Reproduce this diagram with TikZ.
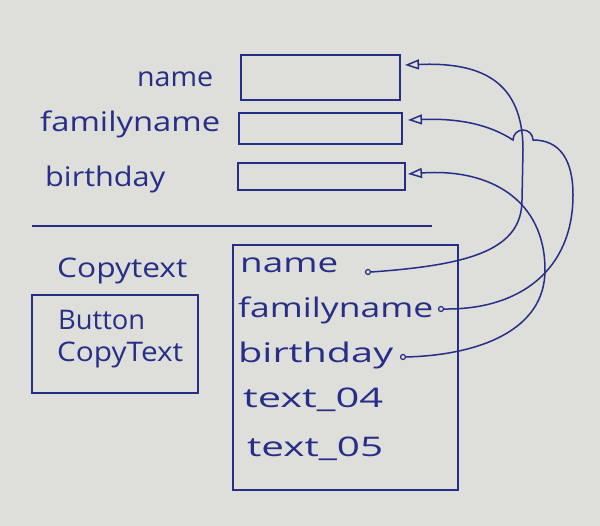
\documentclass[tikz,border=0pt]{standalone}
\usepackage{fontspec}
\setmainfont{Open Sans}
\usetikzlibrary{arrows.meta}
\definecolor{paper}{RGB}{222,222,218}
\definecolor{ink}{RGB}{38,46,135}
\newcommand{\hwtext}[2]{\resizebox{#1pt}{\height}{#2}}
\begin{document}
\begin{tikzpicture}[x=1pt,y=-1pt,
  lbl/.style={anchor=base west, inner sep=0pt, text=ink, font=\fontsize{27}{30}\selectfont},
  fieldbox/.style={draw=ink, line width=1.5pt, inner sep=0pt},
  dotnode/.style={circle, draw=ink, fill=paper, line width=1.2pt, inner sep=0pt, minimum size=5pt},
  wire/.style={draw=ink, line width=1.5pt},
  tip/.style={-{Triangle[open, length=14pt, width=10pt, line width=1.5pt]}}
]
\fill[paper] (0,0) rectangle (600,526);
\useasboundingbox (0,0) rectangle (600,526);

% labels top
\node[lbl] (lname) at (137,87) {\hwtext{76}{name}};
\node[lbl] (lfam) at (40,132) {\hwtext{180}{familyname}};
\node[lbl] (lbirth) at (45,187) {\hwtext{120}{birthday}};

% field boxes
\node[fieldbox, minimum width=159pt, minimum height=45pt] (bname) at (320.5,77.5) {};
\node[fieldbox, minimum width=163pt, minimum height=31pt] (bfam) at (320.5,128.5) {};
\node[fieldbox, minimum width=167pt, minimum height=27pt] (bbirth) at (321.5,176.5) {};

% separator
\coordinate (sepL) at (32,226);
\coordinate (sepR) at (432,226);
\draw[wire] (sepL) -- (sepR);

% copytext and button
\node[lbl] (lcopy) at (57,278) {\hwtext{130}{Copytext}};
\node[fieldbox, minimum width=166pt, minimum height=98pt] (button) at (115,344) {};
\node[lbl] (lbutton) at (58,330) {\hwtext{87}{Button}};
\node[lbl] (lcopytext) at (57,362) {\hwtext{126}{CopyText}};

% list box
\node[fieldbox, minimum width=225pt, minimum height=245pt] (list) at (345.5,367.5) {};
\node[lbl] (iname) at (240,273) {\hwtext{98}{name}};
\node[lbl] (ifam) at (238,318) {\hwtext{195}{familyname}};
\node[lbl] (ibirth) at (238,363) {\hwtext{155}{birthday}};
\node[lbl] (i4) at (243,408) {\hwtext{140}{text\_04}};
\node[lbl] (i5) at (247,457) {\hwtext{136}{text\_05}};

% dots
\node[dotnode] (d1) at (368,272) {};
\node[dotnode] (d2) at (441,309) {};
\node[dotnode] (d3) at (403,357) {};

% arrow tips
\coordinate (t1) at (405,65);
\coordinate (t2) at (408,120);
\coordinate (t3) at (408,174);

% connectors
\draw[wire, tip] (d1.east) .. controls (470,265) and (522,250) .. (522,200)
  -- (523,150) .. controls (523,80) and (480,62) .. (t1);
\draw[wire, tip] (d2.east) .. controls (520,310) and (573,270) .. (573,195)
  .. controls (573,160) and (560,140) .. (533,140)
  arc[start angle=0, end angle=-180, radius=10]
  .. controls (490,125) and (460,118) .. (t2);
\draw[wire, tip] (d3.east) .. controls (480,355) and (545,330) .. (545,270)
  .. controls (545,200) and (490,168) .. (t3);
\end{tikzpicture}
\end{document}
